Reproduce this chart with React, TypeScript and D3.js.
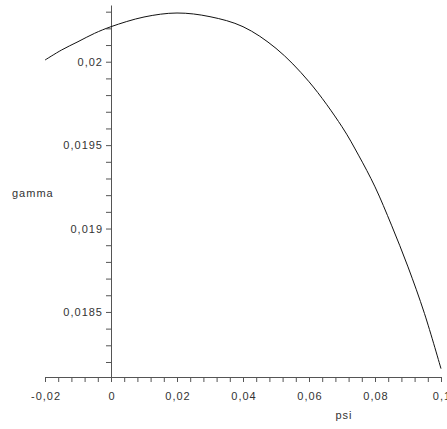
import React, { useEffect, useRef } from "react";
import * as d3 from "d3";

// values
const psi = [-0.02, -0.015, -0.01, -0.005, 0, 0.01, 0.02, 0.03, 0.04, 0.05, 0.06, 0.07, 0.075, 0.08, 0.085, 0.09, 0.095, 0.1];
const gamma = [0.02001, 0.02007, 0.02012, 0.02017, 0.02021, 0.020268, 0.020292, 0.02027, 0.02021, 0.02008, 0.01988, 0.01961, 0.01944, 0.01925, 0.01902, 0.01877, 0.01849, 0.01816];

const xMajor = [-0.02, 0, 0.02, 0.04, 0.06, 0.08, 0.1];
const xTickLabels = ["-0,02", "0", "0,02", "0,04", "0,06", "0,08", "0,1"];
const yMajor = [0.0185, 0.019, 0.0195, 0.02];
const yTickLabels = ["0,0185", "0,019", "0,0195", "0,02"];

const xTitle = "psi";
const yTitle = "gamma";

const FONT = "Arial, 'Liberation Sans', sans-serif";

export default function App() {
  const ref = useRef<SVGSVGElement>(null);

  useEffect(() => {
    const width = 447,
      height = 429;

    const x = d3.scaleLinear().domain([-0.02, 0.1]).range([45, 441]);
    const y = d3.scaleLinear().domain([0.01811, 0.02034]).range([377, 5]);

    const svg = d3.select(ref.current);
    svg.html("");

    // minor ticks every 0.004 on x, 0.0001 on y
    const xTicks = d3.range(0, 31).map((i) => -0.02 + i * 0.004);
    const yTicks = d3.range(0, 22).map((i) => 0.0182 + i * 0.0001);

    const near = (a: number, b: number) => Math.abs(a - b) < 1e-9;

    const xAxis = d3
      .axisBottom(x)
      .tickValues(xTicks)
      .tickSize(5)
      .tickSizeOuter(0)
      .tickPadding(10)
      .tickFormat((d) => {
        const i = xMajor.findIndex((m) => near(m, +d));
        return i >= 0 ? xTickLabels[i] : "";
      });

    const yAxis = d3
      .axisLeft(y)
      .tickValues(yTicks)
      .tickSize(5)
      .tickSizeOuter(0)
      .tickPadding(3)
      .tickFormat((d) => {
        const i = yMajor.findIndex((m) => near(m, +d));
        return i >= 0 ? yTickLabels[i] : "";
      });

    const gx = svg.append("g").attr("transform", `translate(0,${y.range()[0]})`).call(xAxis);
    const gy = svg.append("g").attr("transform", `translate(${x(0)},0)`).call(yAxis);

    [gx, gy].forEach((g) => {
      g.select(".domain").attr("stroke", "#555");
      g.selectAll(".tick line").attr("stroke", "#555");
      g.selectAll(".tick text")
        .attr("fill", "#333")
        .style("font-family", FONT)
        .style("font-size", "11px")
        .style("letter-spacing", "1px");
    });
    // letter-spacing pads the end; keep x labels centred on their ticks
    gx.selectAll(".tick text").attr("dx", "0.5px");

    const pts: [number, number][] = psi.map((p, i) => [p, gamma[i]]);
    const line = d3
      .line<[number, number]>()
      .x((d) => x(d[0]))
      .y((d) => y(d[1]))
      .curve(d3.curveCatmullRom);

    svg
      .append("path")
      .datum(pts)
      .attr("fill", "none")
      .attr("stroke", "#111")
      .attr("stroke-width", 1)
      .attr("d", line);

    svg
      .append("text")
      .attr("x", 12)
      .attr("y", 197)
      .attr("fill", "#333")
      .style("font-family", FONT)
      .style("font-size", "11px")
      .style("letter-spacing", "1px")
      .text(yTitle);

    svg
      .append("text")
      .attr("x", 344)
      .attr("y", 419)
      .attr("text-anchor", "middle")
      .attr("fill", "#333")
      .style("font-family", FONT)
      .style("font-size", "11px")
      .style("letter-spacing", "1px")
      .text(xTitle);

    svg.attr("width", width).attr("height", height);
  }, []);

  return (
    <svg
      ref={ref}
      width={447}
      height={429}
      style={{ position: "absolute", left: 0, top: 0, background: "#fff" }}
    ></svg>
  );
}
